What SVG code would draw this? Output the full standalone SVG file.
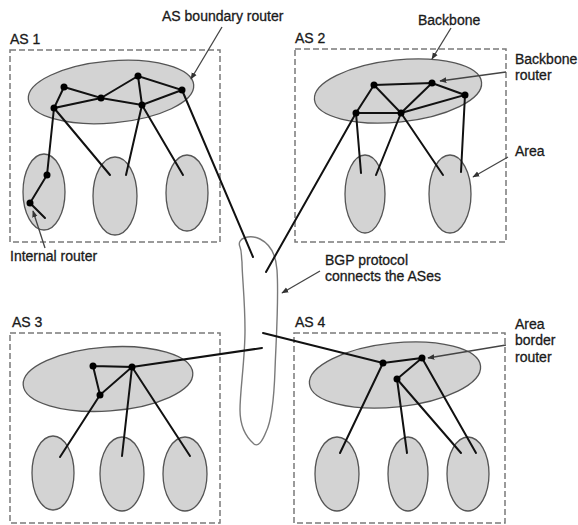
<svg xmlns="http://www.w3.org/2000/svg" width="578" height="525" viewBox="0 0 578 525">
<defs>
<style>
.box{fill:none;stroke:#7a7a7a;stroke-width:1.5;stroke-dasharray:6,3}
.reg{fill:#d3d3d3;stroke:#555;stroke-width:1.3}
.lbl{font-family:"Liberation Sans",Arial,sans-serif;font-size:14px;fill:#1a1a1a;stroke:#1a1a1a;stroke-width:0.3}
.link{stroke:#111;stroke-width:2;fill:none;stroke-linecap:round}
.rt{fill:#000}
.ptr{stroke:#444;stroke-width:1.3;fill:none;marker-end:url(#ah)}
.cloud{fill:#fff;stroke:#7a7a7a;stroke-width:1.4}
</style>
<marker id="ah" viewBox="0 0 10 10" refX="9" refY="5" markerWidth="7" markerHeight="7" orient="auto" markerUnits="userSpaceOnUse">
<path d="M0,1 L10,5 L0,9 Z" fill="#333"/>
</marker>
</defs>
<rect width="578" height="525" fill="#fff"/>

<g id="as1">
<rect class="box" x="10" y="50" width="210" height="192"/>
<text class="lbl" x="10" y="44">AS 1</text>
<ellipse class="reg" cx="111" cy="92" rx="83" ry="31" transform="rotate(-5 111 92)"/>
<ellipse class="reg" cx="44" cy="192" rx="21" ry="38"/>
<ellipse class="reg" cx="115" cy="196" rx="22" ry="39"/>
<ellipse class="reg" cx="187" cy="193" rx="21" ry="38"/>
</g>

<g id="as2">
<rect class="box" x="295" y="49" width="211" height="193"/>
<text class="lbl" x="295" y="43">AS 2</text>
<ellipse class="reg" cx="398" cy="91" rx="84" ry="31" transform="rotate(-6 398 91)"/>
<ellipse class="reg" cx="365" cy="194" rx="20" ry="39"/>
<ellipse class="reg" cx="450" cy="194" rx="21" ry="39"/>
</g>

<g id="as3">
<rect class="box" x="10" y="333" width="210" height="190"/>
<text class="lbl" x="12" y="327">AS 3</text>
<ellipse class="reg" cx="108" cy="379" rx="85" ry="32" transform="rotate(-4 108 379)"/>
<ellipse class="reg" cx="53" cy="473" rx="21" ry="37"/>
<ellipse class="reg" cx="122" cy="474" rx="22" ry="37"/>
<ellipse class="reg" cx="185" cy="474" rx="22" ry="37"/>
</g>

<g id="as4">
<rect class="box" x="294" y="333" width="211" height="190"/>
<text class="lbl" x="295" y="327">AS 4</text>
<ellipse class="reg" cx="395" cy="375" rx="86" ry="32" transform="rotate(-6 395 375)"/>
<ellipse class="reg" cx="337" cy="474" rx="22" ry="37"/>
<ellipse class="reg" cx="408" cy="474" rx="20" ry="37"/>
<ellipse class="reg" cx="468" cy="474" rx="21" ry="37"/>
</g>

<g id="bgp">
<path class="cloud" d="M240,247 C236,238 250,234 260,239 C270,244 276,255 277,270 C279,300 276,340 275,370 C274,400 272,420 266,432 C262,442 258,447 254,444 C246,437 240,425 240,410 C240,390 245,360 245,330 C245,300 242,275 242,262 C241,255 242,252 240,247 Z"/>
</g>

<g id="connectors">
<path class="link" d="M64,87 L101,98 L138,76 L182,90 L142,105 L101,98 L54,108 L64,87"/>
<path class="link" d="M138,76 L142,105"/>
<path class="link" d="M54,108 L47,175 L30,203 L45,218"/>
<path class="link" d="M54,108 L110,175"/>
<path class="link" d="M142,105 L126,175"/>
<path class="link" d="M142,105 L183,175"/>
<path class="link" d="M182,90 L253,257"/>
<path class="link" d="M374,85 L432,83 L465,95 L401,113 L432,83"/>
<path class="link" d="M374,85 L401,113 L356,113"/>
<path class="link" d="M374,85 L356,113 L266,272"/>
<path class="link" d="M356,113 L361,173"/>
<path class="link" d="M401,113 L376,175"/>
<path class="link" d="M401,113 L443,175"/>
<path class="link" d="M465,95 L461,172"/>
<path class="link" d="M93,366 L132,367 L100,395 L93,366"/>
<path class="link" d="M132,367 L262,348"/>
<path class="link" d="M100,395 L60,457"/>
<path class="link" d="M132,367 L122,456"/>
<path class="link" d="M132,367 L190,456"/>
<path class="link" d="M263,333 L383,363 L422,358 L397,379"/>
<path class="link" d="M383,363 L340,453"/>
<path class="link" d="M397,379 L407,453"/>
<path class="link" d="M397,379 L461,453"/>
<path class="link" d="M422,358 L476,453"/>
</g>

<g id="routers">
<circle class="rt" cx="64" cy="87" r="3.5"/>
<circle class="rt" cx="101" cy="98" r="3.5"/>
<circle class="rt" cx="138" cy="76" r="3.5"/>
<circle class="rt" cx="182" cy="90" r="3.5"/>
<circle class="rt" cx="54" cy="108" r="3.5"/>
<circle class="rt" cx="142" cy="105" r="3.5"/>
<circle class="rt" cx="47" cy="175" r="3.5"/>
<circle class="rt" cx="30" cy="203" r="3.5"/>
<circle class="rt" cx="374" cy="85" r="3.5"/>
<circle class="rt" cx="432" cy="83" r="3.5"/>
<circle class="rt" cx="465" cy="95" r="3.5"/>
<circle class="rt" cx="356" cy="113" r="3.5"/>
<circle class="rt" cx="401" cy="113" r="3.5"/>
<circle class="rt" cx="93" cy="366" r="3.5"/>
<circle class="rt" cx="132" cy="367" r="3.5"/>
<circle class="rt" cx="100" cy="395" r="3.5"/>
<circle class="rt" cx="383" cy="363" r="3.5"/>
<circle class="rt" cx="422" cy="358" r="3.5"/>
<circle class="rt" cx="397" cy="379" r="3.5"/>
</g>

<g id="annotations">
<text class="lbl" x="162" y="21">AS boundary router</text>
<path class="ptr" d="M222,27 L191,79"/>
<text class="lbl" x="10" y="261">Internal router</text>
<path class="ptr" d="M45,248 L33,211"/>
<text class="lbl" x="418" y="25">Backbone</text>
<path class="ptr" d="M451,28 L432,59"/>
<text class="lbl" x="515" y="64">Backbone</text>
<text class="lbl" x="515" y="80">router</text>
<path class="ptr" d="M506,72 L440,81"/>
<text class="lbl" x="515" y="156">Area</text>
<path class="ptr" d="M508,157 L473,177"/>
<text class="lbl" x="325" y="265">BGP protocol</text>
<text class="lbl" x="325" y="281">connects the ASes</text>
<path class="ptr" d="M320,271 L282,293"/>
<text class="lbl" x="515" y="329">Area</text>
<text class="lbl" x="515" y="345">border</text>
<text class="lbl" x="515" y="362">router</text>
<path class="ptr" d="M506,345 L428,358"/>
</g>
</svg>
